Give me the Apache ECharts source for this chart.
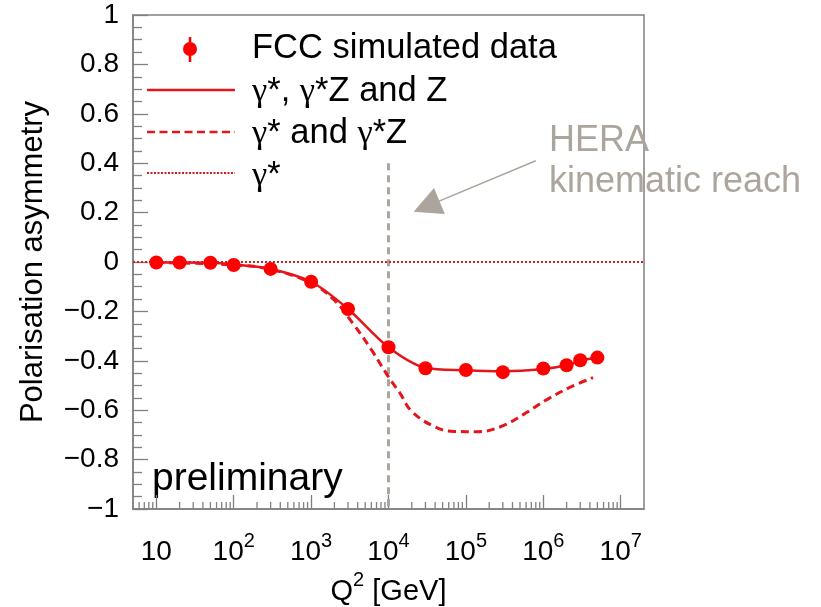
<!DOCTYPE html>
<html><head><meta charset="utf-8">
<script src="https://cdn.jsdelivr.net/npm/echarts@6/dist/echarts.min.js"></script>
<style>html,body{margin:0;padding:0;background:#fff}#c{width:821px;height:607px}</style>
</head><body><div id="c"></div>
<script>
// ---- data ----
const q2Points   = [10, 20, 50, 100, 300, 1000, 3000, 1e4, 3e4, 1e5, 3e5, 1e6, 2e6, 3e6, 5e6];
const asymPoints = [-0.002, -0.002, -0.003, -0.012, -0.028, -0.08, -0.19, -0.345, -0.43, -0.437, -0.446, -0.431, -0.418, -0.398, -0.387];

const q2Full   = [10, 20, 50, 100, 300, 1000, 3000, 1e4, 3e4, 1e5, 3e5, 1e6, 2e6, 3e6, 5e6];
const asymFull = [-0.002, -0.002, -0.003, -0.010, -0.028, -0.08, -0.19, -0.345, -0.428, -0.438, -0.442, -0.433, -0.418, -0.400, -0.388];

const q2GammaZ   = [10, 100, 300, 1000, 2000, 3500, 6000, 1e4, 1.4e4, 2e4, 4e4, 7e4, 1.4e5, 2.8e5, 5.5e5, 1.1e6, 2.2e6, 4.4e6];
const asymGammaZ = [-0.002, -0.012, -0.03, -0.085, -0.155, -0.25, -0.355, -0.465, -0.53, -0.605, -0.668, -0.686, -0.687, -0.667, -0.618, -0.558, -0.508, -0.468];

const q2Gamma   = [5, 2e7];
const asymGamma = [0, 0];

const heraQ2 = [1e4, 1e4];
const heraY  = [0.40, -1];
const arrowFrom = [8.0e5, 0.41];
const arrowTo   = [3.1e4, 0.225];

const xMin = 5, xMax = 2e7, yMin = -1, yMax = 1, yStep = 0.2;
const xDecades = [1, 2, 3, 4, 5, 6, 7];
const legendLabels = ['FCC simulated data', '{g|γ}*, {g|γ}*Z and Z', '{g|γ}* and {g|γ}*Z', '{g|γ}*'];

// minor log ticks (axis decoration)
const minorTicks = [];
for (let k = 0; k <= 6; k++) for (let m = 2; m <= 9; m++) {
  const v = m * Math.pow(10, k);
  if (v > xMin * 1.05 && v < xMax * 0.95) minorTicks.push([v]);
}

const FONT = 'Liberation Sans';
const RED = '#ff0000', LRED = '#e3161c', DRED = '#cf1d1d', GREY = '#aca59d', AX = '#808080';

const chart = echarts.init(document.getElementById('c'));
const zip = (a, b) => a.map((v, i) => [v, b[i]]);
const LF = '34.5px ' + FONT;
const gRich = { g: { fontFamily: 'Liberation Serif', fontSize: 34.5 } };

chart.setOption({
  animation: false,
  backgroundColor: '#fff',
  textStyle: { fontFamily: FONT },
  grid: { left: 133, top: 15, right: 177, bottom: 98, containLabel: false, outerBoundsMode: 'none',
          show: true, borderColor: AX, borderWidth: 1.5, backgroundColor: 'transparent' },
  xAxis: {
    type: 'log', logBase: 10, min: xMin, max: xMax,
    axisLine: { onZero: false, lineStyle: { color: AX, width: 1.5 } },
    axisTick: { inside: true, length: 14, lineStyle: { color: AX, width: 1.3 } },
    splitLine: { show: false },
    minorTick: { show: false },
    axisLabel: {
      margin: 22, color: '#000', fontFamily: FONT,
      showMinLabel: false, showMaxLabel: false,
      formatter: function (v) {
        const e = Math.round(Math.log10(v));
        if (Math.abs(v - Math.pow(10, e)) > 1e-6 * v || xDecades.indexOf(e) < 0) return '';
        return e === 1 ? '{b|10}' : '{b|10}{s|' + e + '}';
      },
      rich: {
        b: { fontSize: 28, lineHeight: 42, fontFamily: FONT, color: '#000' },
        s: { fontSize: 20, lineHeight: 20, verticalAlign: 'top', fontFamily: FONT, color: '#000' }
      }
    },
    name: '{b|Q}{s|2}{b| [GeV]}', nameLocation: 'middle', nameGap: 23,
    nameTextStyle: {
      rich: {
        b: { fontSize: 29, lineHeight: 42, fontFamily: FONT, color: '#000' },
        s: { fontSize: 20, lineHeight: 20, verticalAlign: 'top', fontFamily: FONT, color: '#000' }
      }
    }
  },
  yAxis: {
    type: 'value', min: yMin, max: yMax, interval: yStep,
    axisLine: { show: true, onZero: false, lineStyle: { color: AX, width: 1.5 } },
    axisTick: { show: true, inside: true, length: 15, lineStyle: { color: AX, width: 1.3 } },
    minorTick: { show: true, splitNumber: 4, length: 9, lineStyle: { color: AX, width: 1.3 } },
    splitLine: { show: false },
    axisLabel: {
      margin: 14, fontSize: 28, color: '#000', fontFamily: FONT,
      formatter: function (v) {
        const a = Math.abs(v);
        const s = (a < 1e-9) ? '0' : (Math.abs(a - 1) < 1e-9 ? '1' : a.toFixed(1));
        return (v < -1e-9 ? '\u2212' : '') + s;
      }
    },
    name: 'Polarisation asymmetry', nameLocation: 'middle', nameRotate: 90, nameGap: 84,
    nameTextStyle: { fontSize: 31, color: '#000', fontFamily: FONT }
  },
  series: [
    {
      type: 'custom', name: 'minorTicks', silent: true, z: 5,
      data: minorTicks, encode: { x: 0 },
      renderItem: function (params, api) {
        const p = api.coord([api.value(0), yMin]);
        return { type: 'line', shape: { x1: p[0], y1: p[1], x2: p[0], y2: p[1] - 7 }, style: { stroke: AX, lineWidth: 1.3 } };
      }
    },
    {
      type: 'line', name: 'gamma', data: zip(q2Gamma, asymGamma), showSymbol: false, symbol: 'none',
      lineStyle: { color: DRED, width: 2, type: [2, 2] }, z: 2
    },
    {
      type: 'line', name: 'hera', data: zip(heraQ2, heraY), showSymbol: false, symbol: 'none',
      lineStyle: { color: GREY, width: 3, type: [7, 5] }, z: 1,
      markLine: {
        silent: true, symbol: ['none', 'triangle'], symbolSize: 28,
        lineStyle: { color: GREY, width: 1.5, type: 'solid' }, label: { show: false },
        data: [[{ coord: arrowFrom }, { coord: arrowTo }]]
      }
    },
    {
      type: 'line', name: 'gammaZ', data: zip(q2GammaZ, asymGammaZ), showSymbol: false, symbol: 'none', smooth: 0.4,
      lineStyle: { color: LRED, width: 3, type: [8, 5] }, z: 3
    },
    {
      type: 'line', name: 'full', data: zip(q2Full, asymFull), showSymbol: false, symbol: 'none', smooth: 0.3,
      lineStyle: { color: LRED, width: 2.5 }, z: 4
    },
    {
      type: 'scatter', name: 'data', data: zip(q2Points, asymPoints), symbol: 'circle', symbolSize: 14,
      itemStyle: { color: RED, opacity: 1 }, z: 6
    }
  ],
  graphic: [
    // legend
    { type: 'line', shape: { x1: 190, y1: 37, x2: 190, y2: 62 }, style: { stroke: RED, lineWidth: 2.5 } },
    { type: 'circle', shape: { cx: 190, cy: 49, r: 7 }, style: { fill: RED } },
    { type: 'line', shape: { x1: 147, y1: 90, x2: 235, y2: 90 }, style: { stroke: LRED, lineWidth: 2.5 } },
    { type: 'line', shape: { x1: 147, y1: 132, x2: 235, y2: 132 }, style: { stroke: LRED, lineWidth: 2.5, lineDash: [8, 4.5] } },
    { type: 'line', shape: { x1: 147, y1: 173, x2: 235, y2: 173 }, style: { stroke: DRED, lineWidth: 2, lineDash: [2, 1.5] } },
    { type: 'text', left: 252, top: 31, style: { text: legendLabels[0], font: LF, fill: '#000' } },
    { type: 'text', left: 252, top: 74, style: { text: legendLabels[1], font: LF, fill: '#000', rich: gRich } },
    { type: 'text', left: 252, top: 116, style: { text: legendLabels[2], font: LF, fill: '#000', rich: gRich } },
    { type: 'text', left: 252, top: 158, style: { text: legendLabels[3], font: LF, fill: '#000', rich: gRich } },
    // annotations
    { type: 'text', left: 549, top: 123, style: { text: 'HERA', font: '36px ' + FONT, fill: GREY } },
    { type: 'text', left: 549, top: 164, style: { text: 'kinematic reach', font: '36px ' + FONT, fill: GREY } },
    { type: 'text', left: 152, top: 460, style: { text: 'preliminary', font: '39px ' + FONT, fill: '#000' } }
  ]
});
</script>
</body></html>
